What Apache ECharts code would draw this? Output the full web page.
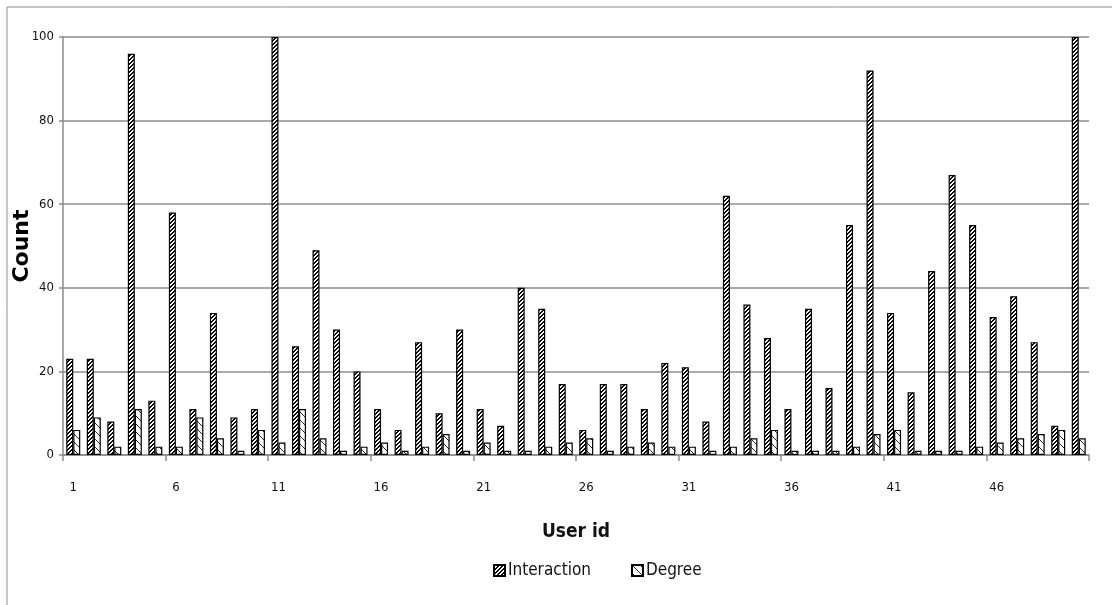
<!DOCTYPE html>
<html>
<head>
<meta charset="utf-8">
<script src="https://cdn.jsdelivr.net/npm/echarts@6/dist/echarts.min.js"></script>
<style>
html,body{margin:0;padding:0;background:#fff;}
#chart{width:1112px;height:605px;}
</style>
</head>
<body>
<div id="chart"></div>
<script>
const categories = ['1','2','3','4','5','6','7','8','9','10','11','12','13','14','15','16','17','18','19','20','21','22','23','24','25','26','27','28','29','30','31','32','33','34','35','36','37','38','39','40','41','42','43','44','45','46','47','48','49','50'];
const interaction = [23,23,8,96,13,58,11,34,9,11,100,26,49,30,20,11,6,27,10,30,11,7,40,35,17,6,17,17,11,22,21,8,62,36,28,11,35,16,55,92,34,15,44,67,55,33,38,27,7,100];
const degree = [6,9,2,11,2,2,9,4,1,6,3,11,4,1,2,3,1,2,5,1,3,1,1,2,3,4,1,2,3,2,2,1,2,4,6,1,1,1,2,5,6,1,1,1,2,3,4,5,6,4];
const yTicks = {min: 0, max: 100, interval: 20};

function makePattern(size, fn) {
  const c = document.createElement('canvas');
  c.width = size; c.height = size;
  const ctx = c.getContext('2d');
  const img = ctx.createImageData(size, size);
  for (let y = 0; y < size; y++) {
    for (let x = 0; x < size; x++) {
      const v = fn(x, y);
      const i = (y * size + x) * 4;
      img.data[i] = v; img.data[i+1] = v; img.data[i+2] = v; img.data[i+3] = 255;
    }
  }
  ctx.putImageData(img, 0, 0);
  return c;
}
// dense forward-slash hatch
const hatchDense = makePattern(4, (x, y) => ((x + y) % 4 < 2 ? 10 : 255));
// sparse backslash hatch
const hatchSparse = makePattern(8, (x, y) => (((x - y + 16) % 8) === 0 ? 40 : 255));

const chart = echarts.init(document.getElementById('chart'), null, {renderer: 'canvas'});
const narrow = "'Liberation Sans Narrow', 'DejaVu Sans Condensed', 'Open Sans', sans-serif";
chart.setOption({
  animation: false,
  backgroundColor: '#fff',
  graphic: [{
    type: 'rect', shape: {x: 7, y: 7, width: 1200, height: 700},
    style: {fill: 'none', stroke: '#8c8c8c', lineWidth: 1}, silent: true
  }],
  grid: {left: 63, right: 23, top: 37, bottom: 150, containLabel: false, outerBoundsMode: 'none'},
  legend: {
    top: 557, left: 488, itemWidth: 11, itemHeight: 11, itemGap: 40,
    textStyle: {fontFamily: narrow, fontSize: 17, color: '#111', padding: [0,0,0,-2]},
    data: [
      {name: 'Interaction', icon: 'rect'},
      {name: 'Degree', icon: 'rect'}
    ]
  },
  xAxis: {
    type: 'category', data: categories, boundaryGap: true,
    name: 'User id', nameLocation: 'middle', nameGap: 68, nameMoveOverlap: false,
    nameTextStyle: {fontFamily: narrow, fontSize: 19, fontWeight: 'bold', color: '#111'},
    axisLine: {show: true, lineStyle: {color: '#8c8c8c', width: 1.5}},
    axisTick: {show: true, interval: 4, length: 6, lineStyle: {color: '#8c8c8c', width: 1.5}},
    axisLabel: {interval: 4, margin: 26, fontFamily: narrow, fontSize: 13, color: '#111'},
    splitLine: {show: false}
  },
  yAxis: {
    type: 'value', min: yTicks.min, max: yTicks.max, interval: yTicks.interval,
    name: 'Count', nameLocation: 'middle', nameGap: 30, nameRotate: 90, nameMoveOverlap: false,
    nameTextStyle: {fontFamily: "'DejaVu Sans', sans-serif", fontSize: 22, fontWeight: 'bold', color: '#000'},
    axisLine: {show: true, lineStyle: {color: '#8c8c8c', width: 1.5}},
    axisTick: {show: true, length: 4, lineStyle: {color: '#8c8c8c', width: 1.5}},
    axisLabel: {margin: 9, fontFamily: narrow, fontSize: 13, color: '#111'},
    splitLine: {lineStyle: {color: '#8c8c8c', width: 1.5}}
  },
  series: [
    {
      name: 'Interaction', type: 'bar', data: interaction,
      barWidth: 7, barGap: '0%',
      itemStyle: {color: {image: hatchDense, repeat: 'repeat'}, borderColor: '#000', borderWidth: 1.2}
    },
    {
      name: 'Degree', type: 'bar', data: degree,
      barWidth: 7, barGap: '0%',
      itemStyle: {color: {image: hatchSparse, repeat: 'repeat'}, borderColor: '#000', borderWidth: 1.2}
    }
  ]
});
</script>
</body>
</html>
